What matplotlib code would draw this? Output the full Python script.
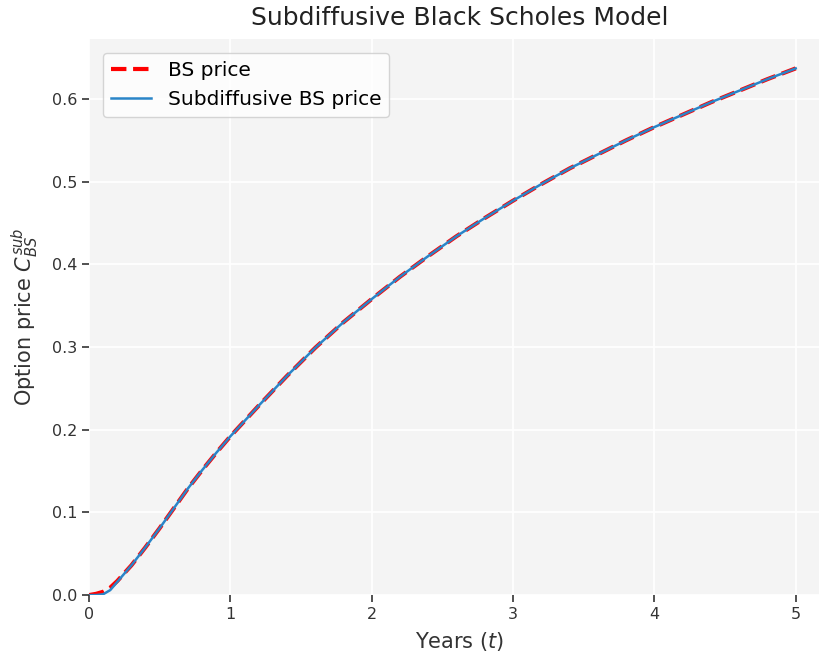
import matplotlib
matplotlib.use("Agg")
import matplotlib.pyplot as plt

# time to maturity (years)
years = [0.0, 0.05, 0.1, 0.15, 0.2, 0.3, 0.4, 0.5, 0.6, 0.7, 0.8, 0.9, 1.0,
         1.2, 1.4, 1.6, 1.8, 2.0, 2.2, 2.4, 2.6, 2.8, 3.0, 3.2, 3.4, 3.6,
         3.8, 4.0, 4.2, 4.4, 4.6, 4.8, 5.0]

# classical Black-Scholes call price
bs_price = [0.0, 0.0015, 0.004, 0.009, 0.017, 0.036, 0.058, 0.081, 0.105,
            0.129, 0.151, 0.172, 0.192, 0.229, 0.265, 0.299, 0.330, 0.358,
            0.385, 0.410, 0.434, 0.456, 0.477, 0.497, 0.516, 0.533, 0.550,
            0.566, 0.581, 0.596, 0.610, 0.624, 0.637]

# subdiffusive Black-Scholes call price
sub_price = [0.0, 0.0, 0.001, 0.006, 0.016, 0.036, 0.058, 0.081, 0.105,
             0.129, 0.151, 0.172, 0.192, 0.229, 0.265, 0.299, 0.330, 0.358,
             0.385, 0.410, 0.434, 0.456, 0.477, 0.497, 0.516, 0.533, 0.550,
             0.566, 0.581, 0.596, 0.610, 0.624, 0.637]


def main():
    fig = plt.figure(figsize=(8.19, 6.59), dpi=100)
    ax = fig.add_axes([0.1087, 0.097, 0.906, 0.844])
    ax.set_facecolor("#f4f4f4")
    for s in ax.spines.values():
        s.set_visible(False)
    ax.grid(True, color="white", linewidth=1.2)
    ax.set_axisbelow(True)

    ax.plot(years, bs_price, "--", color="red", linewidth=3, label="BS price")
    ax.plot(years, sub_price, "-", color="#2a85c8", linewidth=1.8,
            label="Subdiffusive BS price")

    ax.set_xlim(0, 5.25)
    ax.set_ylim(0, 0.6727)
    ax.set_xticks([0, 1, 2, 3, 4, 5])
    ax.set_yticks([0.0, 0.1, 0.2, 0.3, 0.4, 0.5, 0.6])
    ax.tick_params(labelsize=11.5, colors="#333333", length=5, width=1.2)

    ax.set_xlabel("Years ($t$)", fontsize=15, color="#333333", labelpad=6)
    ax.set_ylabel("Option price $C_{BS}^{sub}$", fontsize=15, color="#333333",
                  labelpad=8)
    ax.set_title("Subdiffusive Black Scholes Model", fontsize=18,
                 color="#222222", pad=10)

    ax.legend(loc="upper left", fontsize=14.5, framealpha=0.8,
              edgecolor="#cccccc", facecolor="white", handlelength=2.0,
              borderaxespad=0.7)

    fig.savefig("out.png", dpi=100)


if __name__ == "__main__":
    main()
